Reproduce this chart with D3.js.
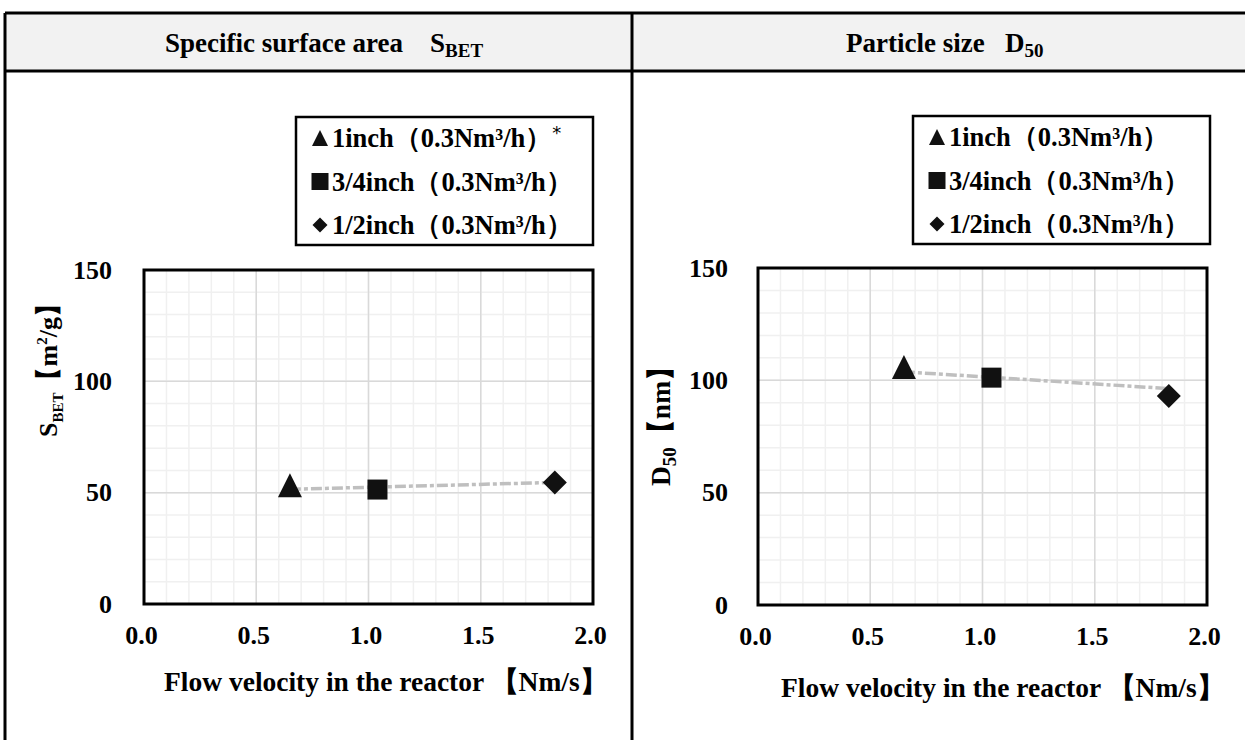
<!DOCTYPE html>
<html>
<head>
<meta charset="utf-8">
<script src="https://cdn.jsdelivr.net/npm/d3@7"></script>
<style>
  html, body { margin: 0; padding: 0; background: #fff; }
  svg text { font-family: "Liberation Serif", "Times New Roman", serif; font-weight: bold; fill: #000; }
</style>
</head>
<body>
<svg id="chart" width="1245" height="740"></svg>
<script>
// ---- data ----
const velocity = [0.65, 1.04, 1.83];            // Flow velocity [Nm/s]
const sbetValues = [53.3, 51.4, 54.6];          // S_BET [m2/g]
const d50Values = [105.9, 101.2, 93.0];         // D50 [nm]
const sbetTrend = [51.5, 54.6];                 // dashed line at first/last velocity
const d50Trend = [103.8, 96.3];
const seriesNames = ["1inch", "3/4inch", "1/2inch"];
const flowNote = "（0.3Nm³/h）";
const seriesSymbols = ["triangle", "square", "diamond"];
const xTicks = [0, 0.5, 1.0, 1.5, 2.0];
const yTicks = [0, 50, 100, 150];
const xMinor = d3.range(0, 2.0001, 0.1);
const yMinor = d3.range(0, 150.001, 10);

const svg = d3.select("#chart");

// ---- table frame ----
const T = { left: 5, top: 13, divider: 632, right: 1252, headBottom: 71, bottom: 760 };
svg.append("rect").attr("x", T.left).attr("y", T.top)
  .attr("width", T.right - T.left).attr("height", T.headBottom - T.top)
  .attr("fill", "#f2f2f2");
const frame = svg.append("g").attr("stroke", "#000").attr("stroke-width", 3);
frame.append("line").attr("x1", T.left).attr("x2", T.right).attr("y1", T.top).attr("y2", T.top);
frame.append("line").attr("x1", T.left).attr("x2", T.right).attr("y1", T.headBottom).attr("y2", T.headBottom);
frame.append("line").attr("x1", T.left).attr("x2", T.left).attr("y1", T.top).attr("y2", T.bottom);
frame.append("line").attr("x1", T.divider).attr("x2", T.divider).attr("y1", T.top).attr("y2", T.bottom);

// headers
const h1 = svg.append("text").attr("y", 52).attr("font-size", 27);
h1.append("tspan").attr("x", 165).text("Specific surface area");
h1.append("tspan").attr("x", 430).text("S");
h1.append("tspan").attr("font-size", 19).attr("dy", 5).text("BET");

const h2 = svg.append("text").attr("y", 52).attr("font-size", 27);
h2.append("tspan").attr("x", 846).text("Particle size");
h2.append("tspan").attr("x", 1005).text("D");
h2.append("tspan").attr("font-size", 19).attr("dy", 5).text("50");

function symbolPath(type, size) {
  const s = size;
  if (type === "triangle") {
    return `M0,${-s/2}L${s/2},${s/2}L${-s/2},${s/2}Z`;
  } else if (type === "square") {
    return `M${-s/2},${-s/2}H${s/2}V${s/2}H${-s/2}Z`;
  } else {
    return `M0,${-s/2}L${s/2},0L0,${s/2}L${-s/2},0Z`;
  }
}
const markerSize = { triangle: 24, square: 20, diamond: 24 };
const legendSize = { triangle: 16, square: 17, diamond: 15 };

function drawChart(cfg) {
  const g = svg.append("g");
  const x = d3.scaleLinear().domain([0, 2]).range([cfg.left, cfg.right]);
  const y = d3.scaleLinear().domain([0, 150]).range([cfg.bottom, cfg.top]);

  // minor grid
  g.append("g").selectAll("line").data(xMinor).join("line")
    .attr("x1", d => x(d)).attr("x2", d => x(d)).attr("y1", cfg.top).attr("y2", cfg.bottom)
    .attr("stroke", "#f0f0f0").attr("stroke-width", 1.5);
  g.append("g").selectAll("line").data(yMinor).join("line")
    .attr("y1", d => y(d)).attr("y2", d => y(d)).attr("x1", cfg.left).attr("x2", cfg.right)
    .attr("stroke", "#f0f0f0").attr("stroke-width", 1.5);
  // major grid
  g.append("g").selectAll("line").data(xTicks).join("line")
    .attr("x1", d => x(d)).attr("x2", d => x(d)).attr("y1", cfg.top).attr("y2", cfg.bottom)
    .attr("stroke", "#d9d9d9").attr("stroke-width", 1.5);
  g.append("g").selectAll("line").data(yTicks).join("line")
    .attr("y1", d => y(d)).attr("y2", d => y(d)).attr("x1", cfg.left).attr("x2", cfg.right)
    .attr("stroke", "#d9d9d9").attr("stroke-width", 1.5);

  // plot border
  g.append("rect").attr("x", cfg.left).attr("y", cfg.top)
    .attr("width", cfg.right - cfg.left).attr("height", cfg.bottom - cfg.top)
    .attr("fill", "none").attr("stroke", "#000").attr("stroke-width", 3);

  // axes (labels only, via d3 axis)
  const xAxis = g.append("g").attr("transform", `translate(0,${cfg.bottom})`)
    .call(d3.axisBottom(x).tickValues(xTicks).tickFormat(d3.format(".1f")).tickSize(0).tickPadding(22));
  xAxis.select(".domain").remove();
  xAxis.selectAll("text").attr("font-size", 26).attr("font-family", null).attr("dx", -3);

  const yAxis = g.append("g").attr("transform", `translate(${cfg.tickRight},0)`)
    .call(d3.axisLeft(y).tickValues(yTicks).tickFormat(d3.format("d")).tickSize(0).tickPadding(0));
  yAxis.select(".domain").remove();
  yAxis.selectAll("text").attr("font-size", 26).attr("font-family", null);

  // axis titles
  g.append("text").attr("x", cfg.xTitleX).attr("y", cfg.xTitleY)
    .attr("text-anchor", "start").attr("font-size", 27.5)
    .text("Flow velocity in the reactor 【Nm/s】");

  const yt = g.append("text").attr("text-anchor", "start").attr("font-size", cfg.yFont)
    .attr("transform", `translate(${cfg.yTitleX},${cfg.yTitleY}) rotate(-90)`);
  yt.append("tspan").text(cfg.yMain);
  yt.append("tspan").attr("font-size", cfg.ySubFont).attr("dy", 6).text(cfg.ySub);
  yt.append("tspan").attr("dy", -6).text(cfg.yUnitA);
  if (cfg.ySup) {
    yt.append("tspan").attr("font-size", cfg.ySubFont).attr("dy", -10).text(cfg.ySup);
    yt.append("tspan").attr("dy", 10).text(cfg.yUnitB);
  }

  // dashed line
  const line = d3.line().x(d => x(d[0])).y(d => y(d[1]));
  g.append("path")
    .datum([[velocity[0], cfg.trend[0]], [velocity[velocity.length - 1], cfg.trend[1]]])
    .attr("d", line).attr("fill", "none").attr("stroke", "#bfbfbf")
    .attr("stroke-width", 3.5).attr("stroke-dasharray", "11,3,4,3");

  // markers
  g.append("g").selectAll("path").data(cfg.values).join("path")
    .attr("transform", (d, i) => `translate(${x(velocity[i])},${y(d)})`)
    .attr("d", (d, i) => symbolPath(seriesSymbols[i], markerSize[seriesSymbols[i]]))
    .attr("fill", "#111");

  // legend
  const L = cfg.legend;
  const lg = g.append("g");
  lg.append("rect").attr("x", L.x).attr("y", L.y).attr("width", L.w).attr("height", L.h)
    .attr("fill", "#fff").attr("stroke", "#000").attr("stroke-width", 2.5);
  seriesNames.forEach((name, i) => {
    const cy = L.y + 21 + i * 43.5;
    lg.append("path").attr("transform", `translate(${L.x + 24},${cy})`)
      .attr("d", symbolPath(seriesSymbols[i], legendSize[seriesSymbols[i]])).attr("fill", "#111");
    const t = lg.append("text").attr("x", L.x + 36).attr("y", cy + 9).attr("font-size", 26.5);
    t.append("tspan").text(name + flowNote);
    if (i === 0 && cfg.asterisk) {
      t.append("tspan").attr("font-family", "DejaVu Sans").attr("font-weight", "normal")
        .attr("font-size", 18).attr("dy", -8).text("*");
    }
  });
}

drawChart({
  left: 144, right: 593, top: 270, bottom: 604, tickRight: 112,
  values: sbetValues, trend: sbetTrend,
  xTitleX: 164, xTitleY: 691, yTitleX: 57, yTitleY: 437,
  yFont: 26, ySubFont: 15,
  yMain: "S", ySub: "BET", yUnitA: "【m", ySup: "2", yUnitB: "/g】",
  legend: { x: 296, y: 117, w: 297, h: 128 }, asterisk: true
});
drawChart({
  left: 758, right: 1207, top: 268, bottom: 605, tickRight: 728,
  values: d50Values, trend: d50Trend,
  xTitleX: 781, xTitleY: 697, yTitleX: 670, yTitleY: 486,
  yFont: 27.5, ySubFont: 19,
  yMain: "D", ySub: "50", yUnitA: "【nm】", ySup: null, yUnitB: null,
  legend: { x: 913, y: 116, w: 297, h: 128 }, asterisk: false
});
</script>
</body>
</html>
